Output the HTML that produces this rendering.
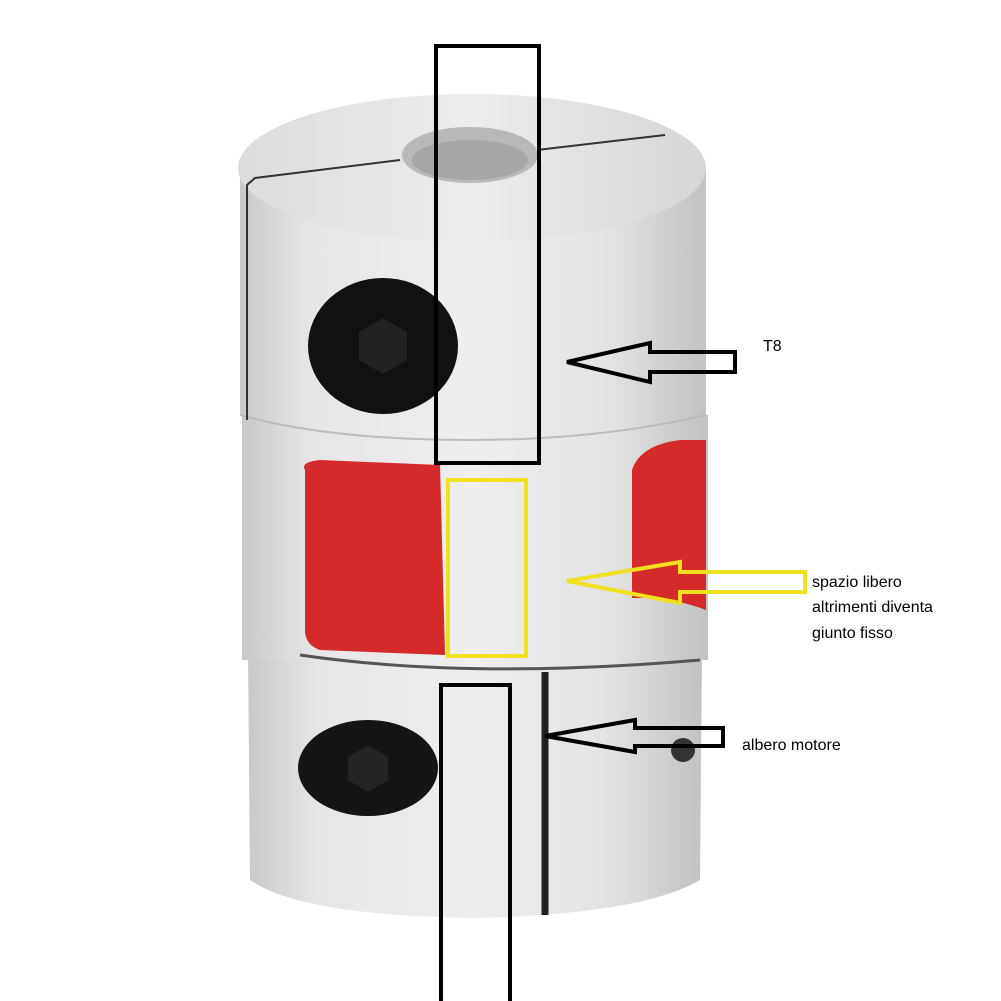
<!DOCTYPE html>
<html><head><style>body{margin:0;background:#fff}svg{display:block}</style></head><body>
<svg width="1001" height="1001" viewBox="0 0 1001 1001" xmlns="http://www.w3.org/2000/svg">
<defs>
<linearGradient id="m" x1="0" x2="1" y1="0" y2="0">
<stop offset="0" stop-color="#c9c9c9"/><stop offset="0.15" stop-color="#e6e6e6"/><stop offset="0.5" stop-color="#eeeeee"/><stop offset="0.8" stop-color="#e2e2e2"/><stop offset="1" stop-color="#c2c2c2"/>
</linearGradient>
<linearGradient id="t" x1="0" x2="1"><stop offset="0" stop-color="#dcdcdc"/><stop offset="0.5" stop-color="#ececec"/><stop offset="1" stop-color="#d6d6d6"/></linearGradient>
</defs>
<path d="M248 650 L702 650 L700 880 Q640 915 470 918 Q300 915 250 880 Z" fill="url(#m)"/>
<rect x="242" y="415" width="466" height="245" fill="url(#m)"/>
<path d="M305 470 Q300 462 320 460 L440 465 L445 655 L320 650 Q305 645 305 630 Z" fill="#d42a2a"/>
<path d="M632 470 Q640 445 680 440 L706 440 L706 610 Q680 600 650 598 L632 598 Z" fill="#d42a2a"/>
<path d="M240 170 L706 170 L706 415 Q600 440 470 440 Q330 440 240 415 Z" fill="url(#m)"/>
<path d="M240 415 Q330 440 470 440 Q600 440 706 415" stroke="#bbb" stroke-width="2" fill="none"/>
<ellipse cx="472" cy="168" rx="234" ry="74" fill="url(#t)"/>
<ellipse cx="470" cy="155" rx="68" ry="28" fill="#b8b8b8"/>
<ellipse cx="470" cy="160" rx="58" ry="20" fill="#a6a6a6"/>
<path d="M400 160 L255 178 L247 185 L247 420" stroke="#333" stroke-width="2" fill="none"/>
<path d="M537 150 L665 135" stroke="#333" stroke-width="2" fill="none"/>
<path d="M545 672 L545 915" stroke="#222" stroke-width="7" fill="none"/>
<path d="M300 655 Q470 680 700 660" stroke="#555" stroke-width="3" fill="none"/>
<ellipse cx="383" cy="346" rx="75" ry="68" fill="#111"/>
<polygon points="383,318 407,332 407,360 383,374 359,360 359,332" fill="#222"/>
<ellipse cx="368" cy="768" rx="70" ry="48" fill="#151515"/>
<polygon points="368,745 388,757 388,780 368,792 348,780 348,757" fill="#252525"/>
<circle cx="683" cy="750" r="12" fill="#333"/>
<rect x="436" y="46" width="103" height="417" fill="none" stroke="#000" stroke-width="4"/>
<path d="M441 1001 L441 685 L510 685 L510 1001" fill="none" stroke="#000" stroke-width="4"/>
<rect x="448" y="480" width="78" height="176" fill="none" stroke="#f0e020" stroke-width="4"/>
<polygon points="567,362 650,343 650,352 735,352 735,372 650,372 650,382" fill="none" stroke="#000" stroke-width="4"/>
<polygon points="567,581 680,562 680,572 805,572 805,592 680,592 680,603" fill="none" stroke="#f0e020" stroke-width="4"/>
<polygon points="545,736 635,720 635,728 723,728 723,746 635,746 635,752" fill="none" stroke="#000" stroke-width="4"/>
<g font-family="Liberation Sans, sans-serif" font-size="16" fill="#000">
<text x="763" y="351">T8</text>
<text x="812" y="587">spazio libero</text>
<text x="812" y="612">altrimenti diventa</text>
<text x="812" y="638">giunto fisso</text>
<text x="742" y="750">albero motore</text>
</g>
</svg>
</body></html>
